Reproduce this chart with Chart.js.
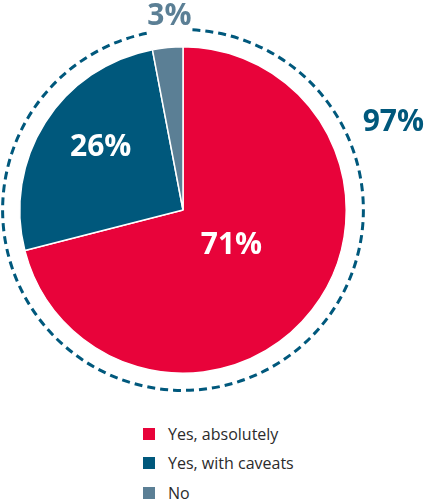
<!DOCTYPE html>
<html>
<head>
<meta charset="utf-8">
<script src="https://cdn.jsdelivr.net/npm/chart.js@4"></script>
<style>
  html, body { margin: 0; padding: 0; background: #fff; }
  #wrap { position: relative; width: 427px; height: 500px; overflow: hidden; }
  #chartBox { position: absolute; left: 0; top: 0; width: 427px; height: 415px; }
  #legend { position: absolute; left: 143px; top: 419px; font-family: "Open Sans", sans-serif; font-size: 16px; color: #2b2b2b; }
  .item { display: flex; align-items: center; height: 29.5px; line-height: 16px; }
  .sw { width: 12px; height: 12px; margin-right: 13px; flex: none; }
</style>
</head>
<body>
<div id="wrap">
  <div id="chartBox"><canvas id="c"></canvas></div>
  <div id="legend"></div>
</div>
<script>
const categories = ["Yes, absolutely", "Yes, with caveats", "No"];
const values = [71, 26, 3];
const colors = ["#e8033a", "#00587c", "#5b7f95"];
const totalYesLabel = "97%";
const totalYesColor = "#00587c";
const noLabelColor = "#5b7f95";

// legend (HTML)
const leg = document.getElementById('legend');
categories.forEach((c, i) => {
  const d = document.createElement('div');
  d.className = 'item';
  const s = document.createElement('span');
  s.className = 'sw';
  s.style.background = colors[i];
  const t = document.createElement('span');
  t.textContent = c;
  d.appendChild(s); d.appendChild(t);
  leg.appendChild(d);
});

const overlay = {
  id: 'overlay',
  afterDatasetsDraw(chart, args, opts) {
    const arc = chart.getDatasetMeta(0).data[0];
    const cx = arc.x, cy = arc.y, r = arc.outerRadius;
    const ctx = chart.ctx;
    const toRad = a => (a - 90) * Math.PI / 180;
    // dashed ring
    ctx.save();
    ctx.strokeStyle = opts.ringColor;
    ctx.lineWidth = 3;
    ctx.setLineDash([8, 5]);
    ctx.beginPath();
    ctx.arc(cx, cy, r * opts.ringScale, toRad(opts.ringStart), toRad(opts.ringEnd));
    ctx.stroke();
    ctx.restore();
    // labels
    ctx.save();
    ctx.textAlign = 'center';
    ctx.textBaseline = 'middle';
    ctx.font = 'bold 30px "Open Sans", sans-serif';
    opts.labels.forEach(l => {
      const a = toRad(l.angle);
      ctx.fillStyle = l.color;
      ctx.fillText(l.text, cx + Math.cos(a) * r * l.dist, cy + Math.sin(a) * r * l.dist + 2);
    });
    ctx.restore();
  }
};

new Chart(document.getElementById('c'), {
  type: 'pie',
  data: {
    labels: categories,
    datasets: [{
      data: values,
      backgroundColor: colors,
      borderColor: '#ffffff',
      borderWidth: 1.5,
      hoverOffset: 0
    }]
  },
  options: {
    responsive: true,
    maintainAspectRatio: false,
    animation: false,
    layout: { padding: { left: 19, right: 80, top: 46, bottom: 41 } },
    plugins: {
      legend: { display: false },
      tooltip: { enabled: false },
      overlay: {
        ringColor: totalYesColor,
        ringScale: 1.105,
        ringStart: 3,
        ringEnd: 349.4,
        labels: [
          { text: values[0] + '%', color: '#ffffff', angle: 124.5, dist: 0.36 },
          { text: values[1] + '%', color: '#ffffff', angle: 308, dist: 0.64 },
          { text: values[2] + '%', color: noLabelColor, angle: 356, dist: 1.20 },
          { text: totalYesLabel, color: totalYesColor, angle: 67, dist: 1.40 }
        ]
      }
    }
  },
  plugins: [overlay]
});
</script>
</body>
</html>
